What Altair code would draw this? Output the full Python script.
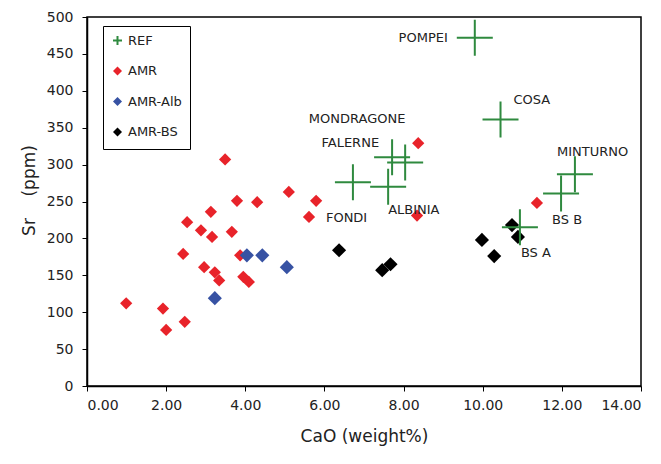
import altair as alt
import pandas as pd

# ---- data ----
ref_labels = ["POMPEI", "COSA", "MONDRAGONE", "FALERNE", "FONDI", "ALBINIA", "MINTURNO", "BS B", "BS A"]
ref_x = [9.80, 10.45, 8.04, 7.71, 6.72, 7.61, 12.33, 11.98, 10.94]
ref_y = [472, 361, 303, 310, 276, 270, 287, 261, 215]

amr_x = [3.49, 5.10, 3.79, 4.30, 5.79, 5.61, 3.13, 2.53, 2.88, 3.16, 3.66, 2.43, 3.87,
         2.96, 3.23, 3.34, 3.95, 4.09, 0.99, 1.92, 2.00, 2.47, 8.37, 8.34, 11.37]
amr_y = [307, 263, 251, 249, 251, 229, 236, 222, 211, 202, 209, 179, 177,
         161, 154, 143, 148, 141, 112, 105, 76, 87, 329, 231, 248]

alb_x = [3.23, 4.04, 4.43, 5.05]
alb_y = [119, 177, 177, 161]

bs_x = [6.37, 7.46, 7.67, 9.98, 10.29, 10.74, 10.89]
bs_y = [184, 157, 165, 198, 176, 218, 202]

groups = ["REF", "AMR", "AMR-Alb", "AMR-BS"]
x_ticks = [0, 2, 4, 6, 8, 10, 12, 14]
y_ticks = list(range(0, 501, 50))

# ---- table ----
rows = []
for x, y in zip(amr_x, amr_y):
    rows.append({"CaO": x, "Sr": y, "group": "AMR", "label": ""})
for x, y in zip(alb_x, alb_y):
    rows.append({"CaO": x, "Sr": y, "group": "AMR-Alb", "label": ""})
for x, y in zip(bs_x, bs_y):
    rows.append({"CaO": x, "Sr": y, "group": "AMR-BS", "label": ""})
for lab, x, y in zip(ref_labels, ref_x, ref_y):
    rows.append({"CaO": x, "Sr": y, "group": "REF", "label": lab})
df = pd.DataFrame(rows)

GREEN = "#2f8a3f"
RED = "#e8232a"
BLUE = "#3752a3"
BLACK = "#000000"
PLUS = "M-1,0L1,0M0,-1L0,1"
FONT = "DejaVu Sans"
NBSP = "\u00a0"

xenc = alt.X("CaO:Q", scale=alt.Scale(domain=[0, 14], nice=False),
             axis=alt.Axis(values=x_ticks, format=".2f", title="CaO (weight%)"))
yenc = alt.Y("Sr:Q", scale=alt.Scale(domain=[0, 500], nice=False),
             axis=alt.Axis(values=y_ticks, title="Sr" + NBSP * 4 + "(ppm)", titleY=173))

legend = alt.Legend(title=None, orient="none", legendX=16, legendY=9,
                    strokeColor="black", fillColor="white", padding=8,
                    rowPadding=13.5, symbolSize=81, symbolStrokeWidth=2,
                    labelFontSize=13, labelFont=FONT, labelColor="#222222",
                    labelOffset=4, cornerRadius=0)

color = alt.Color("group:N", scale=alt.Scale(domain=groups, range=[GREEN, RED, BLUE, BLACK]),
                  legend=legend)
stroke = alt.Stroke("group:N", scale=alt.Scale(domain=groups,
                                               range=[GREEN, "transparent", "transparent", "transparent"]),
                    legend=legend)
shape = alt.Shape("group:N", scale=alt.Scale(domain=groups, range=[PLUS, "diamond", "diamond", "diamond"]),
                  legend=legend)

marker_size = {"AMR": 150, "AMR-Alb": 200, "AMR-BS": 200, "REF": 1296}

layers = []
for g in ["AMR", "AMR-Alb", "AMR-BS", "REF"]:
    layers.append(
        alt.Chart(df).transform_filter(alt.datum.group == g).mark_point(
            filled=True, strokeWidth=2, opacity=1, size=marker_size[g]
        ).encode(x=xenc, y=yenc, color=color, stroke=stroke, shape=shape)
    )

# label placement (style): (dx, dy, align)
label_style = {
    "POMPEI": (-27, 0, "right"),
    "COSA": (13, -20, "left"),
    "MONDRAGONE": (-48, -43, "center"),
    "FALERNE": (-13, -14, "right"),
    "FONDI": (-27, 36, "left"),
    "ALBINIA": (0, 23, "left"),
    "MINTURNO": (-18, -22, "left"),
    "BS B": (-9, 27, "left"),
    "BS A": (1, 26, "left"),
}

for lab in ref_labels:
    dx, dy, al = label_style[lab]
    layers.append(
        alt.Chart(df).transform_filter(alt.datum.label == lab).mark_text(
            dx=dx, dy=dy, align=al, baseline="middle", font=FONT, fontSize=13, color="#222222"
        ).encode(x=xenc, y=yenc, text="label:N")
    )

chart = alt.layer(*layers).properties(
    width=554, height=369,
    padding={"left": 87, "top": 17, "right": 20, "bottom": 78},
    autosize="none",
).configure_view(
    stroke="black", strokeWidth=1.5
).configure_axis(
    grid=False, domainColor="black", domainWidth=1.5, tickColor="black", tickSize=5,
    labelFont=FONT, labelFontSize=14, labelColor="#222222",
    titleFont=FONT, titleFontSize=17, titleFontWeight="normal", titleColor="#222222",
).configure_axisX(
    labelPadding=7, titlePadding=16
).configure_axisY(
    labelPadding=9, titlePadding=8
)

chart.save("out.html", embed_options={"renderer": "svg", "actions": False})
